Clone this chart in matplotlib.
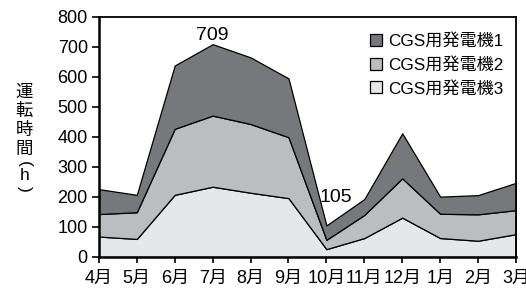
import matplotlib
matplotlib.use('Agg')
import matplotlib.pyplot as plt
import numpy as np

plt.rcParams['font.family'] = ['Liberation Sans', 'Noto Sans CJK JP', 'DejaVu Sans']

# 月別運転時間 (h)
months = ['4月', '5月', '6月', '7月', '8月', '9月', '10月', '11月', '12月', '1月', '2月', '3月']
gen3 = [68, 60, 207, 234, 214, 196, 26, 63, 131, 63, 54, 76]
gen2 = [75, 89, 220, 237, 229, 203, 31, 77, 131, 81, 88, 80]
gen1 = [83, 58, 211, 238, 222, 196, 48, 53, 150, 57, 64, 91]
labels = ['CGS用発電機1', 'CGS用発電機2', 'CGS用発電機3']
colors = ['#77787b', '#bcbdc0', '#e6e7e8']

x = np.arange(len(months))
total = np.array(gen1) + np.array(gen2) + np.array(gen3)

fig = plt.figure(figsize=(5.26, 2.91), dpi=100)
ax = fig.add_axes([0.188, 0.117, 0.793, 0.825])

# 積み上げ面グラフ (下から 3, 2, 1)
polys = ax.stackplot(x, gen3, gen2, gen1, colors=colors[::-1],
                     edgecolor='black', linewidth=0.9)

ax.set_xlim(0, len(months) - 1)
ax.set_ylim(0, 800)
ax.set_xticks(x)
ax.set_xticklabels(months, fontsize=13)
ax.set_yticks(range(0, 801, 100))
ax.tick_params(axis='y', labelsize=13, length=5, width=1.2, pad=3)
ax.tick_params(axis='x', length=4, width=1.2, pad=5)
for side in ['left', 'bottom']:
    ax.spines[side].set_linewidth(1.8)
for side in ['top', 'right']:
    ax.spines[side].set_linewidth(1.3)

# 最大・最小の注記
i_max = int(np.argmax(total))
i_min = int(np.argmin(total))
ax.text(x[i_max], total[i_max] + 2, str(total[i_max]), ha='center', va='bottom', fontsize=14)
ax.text(x[i_min] + 0.25, total[i_min] + 66, str(total[i_min]), ha='center', va='bottom', fontsize=14)

# 凡例
handles = [polys[2], polys[1], polys[0]]
leg = ax.legend(handles, labels, loc='upper right', bbox_to_anchor=(0.995, 0.975),
                frameon=False, fontsize=12.3,
                handlelength=0.7, handleheight=0.7, handletextpad=0.4,
                labelspacing=0.45, borderaxespad=0.3, borderpad=0.3)

# 縦書きの軸ラベル: 運転時間（h） (括弧は横向きの弧)
ylab_chars = ['運', '転', '時', '間', '(', 'h', ')']
ylab_rot = [0, 0, 0, 0, -90, 0, -90]
ylab_py = [91.5, 111, 130, 148.5, 163.5, 175, 188.5]
for ch, rot, py in zip(ylab_chars, ylab_rot, ylab_py):
    fig.text(0.046, 1 - py / 291, ch, ha='center', va='center', rotation=rot,
             fontsize=12.5, rotation_mode='anchor',
             family=['Noto Sans CJK JP', 'DejaVu Sans'] if rot == 0 and ch != 'h' else ['Liberation Sans'])

fig.savefig('out.png', dpi=100)
